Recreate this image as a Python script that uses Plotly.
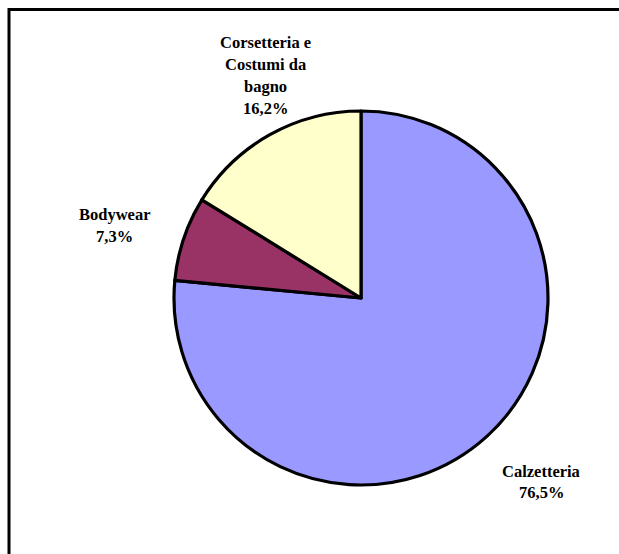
import plotly.graph_objects as go

W, H = 619, 554

categories = ["Calzetteria", "Bodywear", "Corsetteria e<br>Costumi da<br>bagno"]
values = [76.5, 7.3, 16.2]
value_labels = ["76,5%", "7,3%", "16,2%"]
colors = ["#9999FF", "#993366", "#FFFFCC"]

# label anchor positions (pixels: centre x, centre y of first line)
label_pos = [(541, 471), (115, 215), (265, 43)]
LINE_STEP = 21.7

fig = go.Figure()
fig.add_trace(go.Pie(
    labels=categories,
    values=values,
    sort=False,
    direction="clockwise",
    rotation=0,
    marker=dict(colors=colors, line=dict(color="black", width=3.2)),
    textinfo="none",
    hoverinfo="label+percent",
    showlegend=False,
    domain=dict(x=[(361 - 187) / W, (361 + 187) / W],
                y=[(554 - 298 - 187) / H, (554 - 298 + 187) / H]),
))

annotations = []
for cat, vl, (px, py) in zip(categories, value_labels, label_pos):
    lines = cat.split("<br>") + [vl]
    for i, ln in enumerate(lines):
        annotations.append(dict(
            text=f"<b>{ln}</b>",
            x=px / W, y=1 - (py + i * LINE_STEP) / H, xref="paper", yref="paper",
            xanchor="center", yanchor="middle", showarrow=False,
            align="center",
            font=dict(family="Liberation Serif", size=16.5, color="black"),
        ))

fig.update_layout(
    width=W, height=H,
    margin=dict(l=0, r=0, t=0, b=0),
    paper_bgcolor="white", plot_bgcolor="white",
    annotations=annotations,
    shapes=[dict(type="rect", xref="paper", yref="paper",
                 x0=9 / W, x1=1.1, y0=-0.1, y1=1 - 9.5 / H,
                 line=dict(color="black", width=3), fillcolor="rgba(0,0,0,0)")],
)

fig.write_html("out.html")
